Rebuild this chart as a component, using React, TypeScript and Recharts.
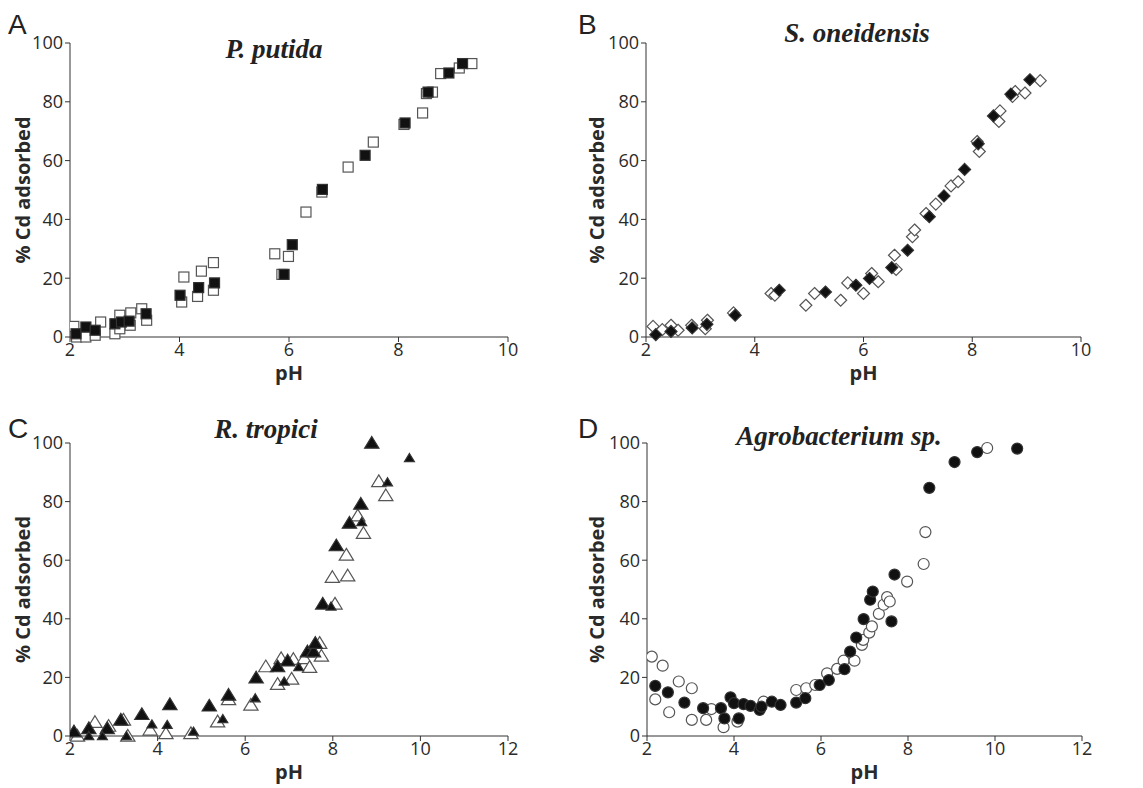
import React from 'react';
import { ScatterChart, Scatter, XAxis, YAxis, ZAxis } from 'recharts';

// pH / % Cd adsorbed pairs
const putidaFilled = [
  [2.11, 1.1], [2.29, 3.4], [2.46, 2.3], [2.82, 4.5], [2.94, 5.1], [3.08, 5.4], [3.39, 7.9],
  [4.01, 14.2], [4.35, 16.8], [4.64, 18.4], [5.91, 21.3], [6.06, 31.4], [6.61, 50.2],
  [7.39, 61.8], [8.12, 72.8], [8.54, 83.3], [8.92, 89.8], [9.17, 93.0],
];
const putidaOpen = [
  [2.07, 3.6], [2.12, 0], [2.29, 0], [2.46, 0.6], [2.56, 5.1], [2.82, 1.1], [2.91, 2.8],
  [2.91, 7.4], [3.1, 4.0], [3.11, 8.2], [3.31, 9.6], [3.4, 5.7], [4.04, 11.9], [4.08, 20.4],
  [4.33, 13.8], [4.4, 22.4], [4.62, 15.9], [4.62, 25.3], [5.74, 28.3], [5.87, 21.3],
  [5.99, 27.4], [6.31, 42.5], [6.6, 49.3], [7.08, 57.8], [7.54, 66.3], [8.1, 72.3],
  [8.44, 76.2], [8.51, 82.8], [8.62, 83.3], [8.77, 89.6], [9.11, 91.5], [9.34, 93.0],
];

const oneidensisFilled = [
  [2.18, 0.8], [2.46, 1.9], [2.85, 3.1], [3.12, 4.3], [3.64, 7.4], [4.45, 15.9], [5.3, 15.3],
  [5.86, 17.6], [6.11, 19.9], [6.52, 23.6], [6.81, 29.5], [7.21, 40.9], [7.48, 48.0],
  [7.86, 57.0], [8.11, 65.7], [8.39, 75.2], [8.71, 82.6], [9.06, 87.5],
];
const oneidensisOpen = [
  [2.13, 3.6], [2.3, 2.5], [2.46, 4.0], [2.59, 2.3], [2.84, 4.0], [3.09, 2.8], [3.13, 5.7],
  [3.61, 8.2], [4.3, 14.8], [4.37, 14.2], [4.94, 10.8], [5.1, 14.8], [5.58, 12.5],
  [5.71, 18.4], [6.0, 14.8], [6.15, 21.6], [6.27, 18.8], [6.57, 27.8], [6.6, 23.0],
  [6.9, 34.1], [6.94, 36.4], [7.15, 42.0], [7.33, 45.2], [7.61, 51.4], [7.74, 52.8],
  [8.13, 63.1], [8.09, 66.5], [8.51, 76.9], [8.49, 73.3], [8.79, 83.5], [8.74, 81.8],
  [8.97, 83.0], [9.25, 87.2],
];

const tropiciFilled = [
  [2.09, 1.5], [2.43, 2.6], [2.85, 2.6], [3.16, 5.5], [3.64, 7.4], [4.28, 10.8], [5.18, 10.3],
  [5.62, 14.0], [6.25, 19.9], [6.74, 23.7], [6.97, 25.7], [7.42, 28.8], [7.56, 28.8],
  [7.6, 31.7], [7.77, 45.1], [8.08, 65.0], [8.38, 72.7], [8.64, 79.2], [8.89, 100],
];
const tropiciFilledSmall = [
  [2.43, 0], [2.74, 0], [3.29, 0], [3.87, 4.0], [4.22, 3.8], [4.82, 1.5], [5.49, 5.8],
  [6.23, 12.9], [6.89, 18.6], [7.22, 23.5], [7.96, 44.2], [8.66, 73.0], [9.25, 86.6],
  [9.75, 94.9],
];
const tropiciOpen = [
  [2.17, 0], [2.57, 4.7], [2.88, 3.4], [3.22, 5.5], [3.32, 0], [3.83, 2.1], [4.19, 0.9],
  [4.76, 0.9], [5.37, 4.9], [5.62, 12.5], [6.13, 10.6], [6.47, 23.7], [6.74, 17.7],
  [6.82, 26.5], [7.06, 19.5], [7.1, 26.2], [7.35, 26.5], [7.47, 23.5], [7.7, 31.7],
  [7.74, 27.3], [7.99, 54.2], [8.05, 45.1], [8.31, 61.8], [8.34, 54.7], [8.57, 75.2],
  [8.7, 69.2], [9.05, 86.9], [9.21, 82.1],
];

const agroFilled = [
  [2.19, 17.1], [2.48, 14.9], [2.86, 11.4], [3.29, 9.5], [3.7, 9.5], [3.78, 6.0], [3.92, 13.2],
  [4.0, 11.2], [4.11, 6.0], [4.22, 10.9], [4.38, 10.3], [4.59, 8.9], [4.63, 10.0],
  [4.87, 11.7], [5.07, 10.6], [5.43, 11.4], [5.64, 12.9], [5.97, 17.4], [6.18, 19.1],
  [6.54, 22.8], [6.67, 28.8], [6.81, 33.6], [6.98, 39.9], [7.13, 46.5], [7.19, 49.3],
  [7.62, 39.1], [7.69, 55.1], [8.49, 84.7], [9.07, 93.5], [9.59, 96.9], [10.51, 98.1],
];
const agroOpen = [
  [2.11, 27.1], [2.19, 12.5], [2.36, 24.0], [2.51, 8.1], [2.73, 18.6], [3.03, 16.3],
  [3.03, 5.5], [3.36, 5.5], [3.48, 9.2], [3.76, 3.0], [4.08, 4.9], [4.68, 11.7],
  [5.43, 15.7], [5.66, 16.3], [5.87, 17.4], [6.14, 21.4], [6.37, 22.9], [6.52, 25.7],
  [6.77, 25.7], [6.94, 31.1], [6.97, 32.8], [7.11, 35.3], [7.17, 37.4], [7.33, 41.7],
  [7.44, 44.8], [7.52, 47.4], [7.58, 45.9], [7.98, 52.7], [8.36, 58.7], [8.4, 69.6],
  [9.82, 98.3],
];

const yTicks = [0, 20, 40, 60, 80, 100];
const xTicksShort = [2, 4, 6, 8, 10];
const xTicksLong = [2, 4, 6, 8, 10, 12];

const toPts = (arr: number[][]) => arr.map(([x, y]) => ({ x, y }));

const AXIS = '#333';
const OPEN = '#555';
const tickStyle = { fontFamily: 'Open Sans', fontSize: 18, fill: '#2a2a2a' };
const labelStyle = { fontFamily: 'Open Sans', fontSize: 20, fontWeight: 700, fill: '#2a2a2a' };

const square = (fill: string, stroke: string) => (p: any) => (
  <rect x={p.cx - 5} y={p.cy - 5} width={10} height={10} fill={fill} stroke={stroke} strokeWidth={1.2} />
);
const diamond = (fill: string, stroke: string) => (p: any) => (
  <path
    d={`M${p.cx},${p.cy - 6} L${p.cx + 6},${p.cy} L${p.cx},${p.cy + 6} L${p.cx - 6},${p.cy} Z`}
    fill={fill} stroke={stroke} strokeWidth={1.2}
  />
);
const triangle = (fill: string, stroke: string, s: number) => (p: any) => (
  <path
    d={`M${p.cx},${p.cy - s} L${p.cx + s * 1.1},${p.cy + s * 0.8} L${p.cx - s * 1.1},${p.cy + s * 0.8} Z`}
    fill={fill} stroke={stroke} strokeWidth={1.2}
  />
);
const circle = (fill: string, stroke: string) => (p: any) => (
  <circle cx={p.cx} cy={p.cy} r={5.5} fill={fill} stroke={stroke} strokeWidth={1.2} />
);

interface PanelProps {
  left: number;
  top: number;
  width: number;
  height: number;
  plotLeft: number;
  plotTop: number;
  plotRight: number;
  plotBottom: number;
  xMax: number;
  xTicks: number[];
  yLabelX: number;
  letter: string;
  letterTop: number;
  title: string;
  titleX: number;
  titleY: number;
  series: { data: number[][]; shape: (p: any) => React.ReactElement }[];
}

const Panel: React.FC<PanelProps> = (p) => (
  <div style={{ position: 'absolute', left: p.left, top: p.top, width: p.width, height: p.height }}>
    <ScatterChart
      width={p.width}
      height={p.height}
      margin={{ top: p.plotTop, right: p.width - p.plotRight, bottom: 0, left: 0 }}
    >
      <XAxis
        type="number"
        dataKey="x"
        domain={[2, p.xMax]}
        ticks={p.xTicks}
        height={p.height - p.plotBottom}
        stroke={AXIS}
        tick={tickStyle}
        tickSize={5}
        tickMargin={1}
        allowDataOverflow
        label={{ value: 'pH', position: 'insideTop', offset: 29, style: labelStyle }}
      />
      <YAxis
        type="number"
        dataKey="y"
        domain={[0, 100]}
        ticks={yTicks}
        width={p.plotLeft}
        stroke={AXIS}
        tick={tickStyle}
        tickSize={5}
        tickMargin={2}
        label={{
          value: '% Cd adsorbed',
          angle: -90,
          position: 'insideLeft',
          offset: p.yLabelX,
          style: { ...labelStyle, textAnchor: 'middle' },
        }}
      />
      <ZAxis range={[100, 100]} />
      {p.series.map((s, i) => (
        <Scatter key={i} data={toPts(s.data)} shape={s.shape} isAnimationActive={false} />
      ))}
    </ScatterChart>
    <div
      style={{
        position: 'absolute', left: 8, top: p.letterTop, fontFamily: 'Liberation Sans',
        fontSize: 28, color: '#222', lineHeight: '28px',
      }}
    >
      {p.letter}
    </div>
    <div
      style={{
        position: 'absolute', left: p.titleX - 150, width: 300, top: p.titleY - 23, textAlign: 'center',
        fontFamily: 'Liberation Serif', fontStyle: 'italic', fontWeight: 700, fontSize: 27,
        lineHeight: '28px', color: '#222',
      }}
    >
      {p.title}
    </div>
  </div>
);

export default function App() {
  return (
    <div style={{ position: 'absolute', left: 0, top: 0, width: 1143, height: 788, background: '#fff' }}>
      <Panel
        left={0} top={0} width={570} height={390}
        plotLeft={70} plotTop={43} plotRight={508} plotBottom={337}
        xMax={10} xTicks={xTicksShort} yLabelX={23}
        letter="A" letterTop={11} title="P. putida" titleX={274} titleY={58}
        series={[
          { data: putidaOpen, shape: square('#fff', OPEN) },
          { data: putidaFilled, shape: square('#111', '#333') },
        ]}
      />
      <Panel
        left={570} top={0} width={573} height={390}
        plotLeft={76} plotTop={43} plotRight={511} plotBottom={337}
        xMax={10} xTicks={xTicksShort} yLabelX={27}
        letter="B" letterTop={11} title="S. oneidensis" titleX={287} titleY={42}
        series={[
          { data: oneidensisOpen, shape: diamond('#fff', OPEN) },
          { data: oneidensisFilled, shape: diamond('#111', '#333') },
        ]}
      />
      <Panel
        left={0} top={390} width={570} height={398}
        plotLeft={70} plotTop={53} plotRight={508} plotBottom={346}
        xMax={12} xTicks={xTicksLong} yLabelX={23}
        letter="C" letterTop={25} title="R. tropici" titleX={266} titleY={48}
        series={[
          { data: tropiciOpen, shape: triangle('#fff', OPEN, 6.5) },
          { data: tropiciFilled, shape: triangle('#111', '#333', 6.5) },
          { data: tropiciFilledSmall, shape: triangle('#111', '#333', 4.5) },
        ]}
      />
      <Panel
        left={570} top={390} width={573} height={398}
        plotLeft={77} plotTop={53} plotRight={512} plotBottom={346}
        xMax={12} xTicks={xTicksLong} yLabelX={27}
        letter="D" letterTop={25} title="Agrobacterium sp." titleX={269} titleY={55}
        series={[
          { data: agroOpen, shape: circle('#fff', OPEN) },
          { data: agroFilled, shape: circle('#111', '#333') },
        ]}
      />
    </div>
  );
}
